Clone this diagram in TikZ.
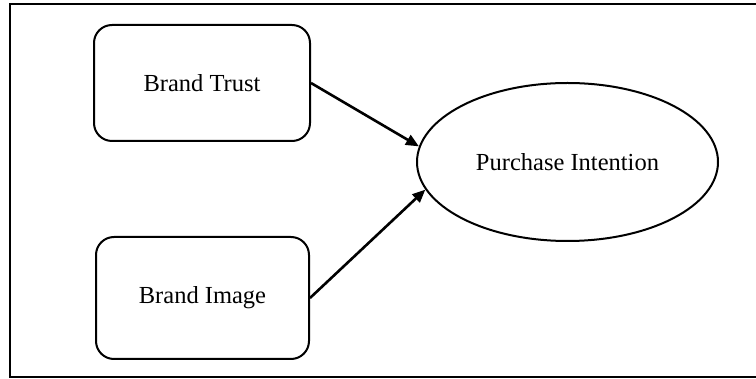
\documentclass[tikz,border=0pt]{standalone}
\usepackage{fontspec}
\setmainfont{Liberation Serif}
\usetikzlibrary{shapes.geometric,arrows.meta}

\tikzset{
  construct/.style={draw, line width=2pt, rounded corners=18pt, inner sep=0pt,
    font=\fontsize{24.5}{28}\selectfont},
  latent/.style={draw, ellipse, line width=2pt, inner sep=0pt,
    font=\fontsize{24.5}{28}\selectfont},
  path link/.style={line width=2.6pt, -{Triangle[length=13pt,width=11pt]}},
  frame line/.style={line width=2.4pt}
}

\begin{document}
\begin{tikzpicture}[x=1pt,y=-1pt]
  \useasboundingbox (0,0) rectangle (756,379);

  % outer frame (continues past the right edge)
  \draw[frame line] (760,4.3) -- (10,4.3) -- (10,377) -- (760,377);

  % constructs
  \node[construct, minimum width=216pt, minimum height=116pt] (trust) at (202,83) {Brand Trust};
  \node[construct, minimum width=213pt, minimum height=122pt] (image) at (202.5,298) {Brand Image};
  \node[latent, minimum width=301pt, minimum height=158pt] (intent) at (567.5,162) {Purchase Intention};

  % hypothesised paths
  \draw[path link] (trust.east) -- (intent.174);
  \draw[path link] (image.east) -- (intent.191.5);
\end{tikzpicture}
\end{document}
